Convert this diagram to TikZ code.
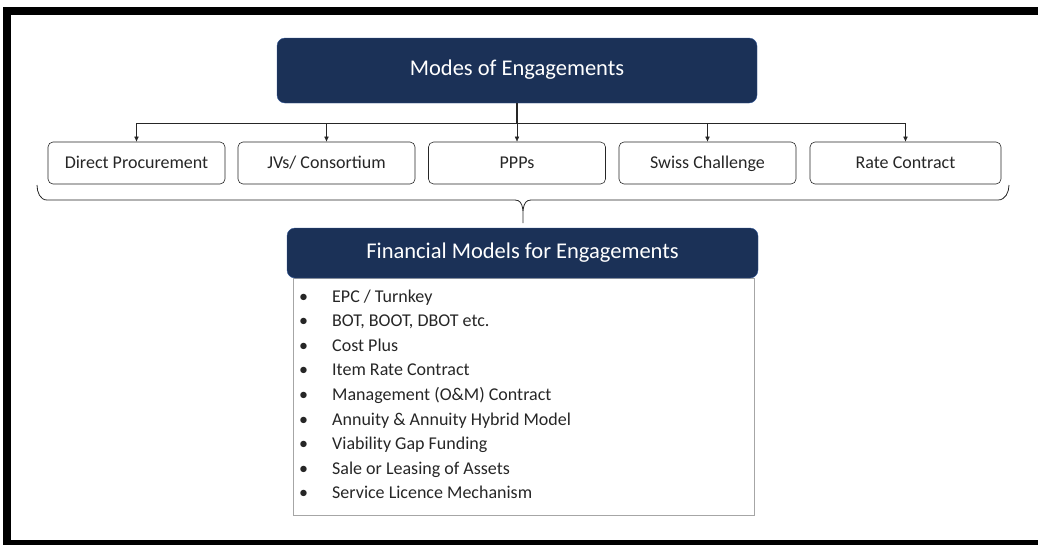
\documentclass[tikz,border=0pt]{standalone}
\usepackage{fontspec}
\setmainfont{Carlito}
\usetikzlibrary{arrows.meta}

\definecolor{navy}{RGB}{27,49,87}
\definecolor{navyedge}{RGB}{47,85,151}
\definecolor{boxgray}{RGB}{166,166,166}
\definecolor{ink}{RGB}{38,38,38}

\begin{document}
\begin{tikzpicture}[x=1pt, y=-1pt,
	modebox/.style={rectangle, rounded corners=5pt, draw=ink, semithick, text=ink, minimum height=42pt, text height=1.05em, text depth=0.05em, font=\fontsize{18}{20}\selectfont},
	headbox/.style={rectangle, rounded corners=8pt, fill=navy, draw=navyedge, text=white, text height=1.05em, text depth=0.05em, font=\fontsize{22.5}{25}\selectfont},
	item/.style={text=ink, inner sep=0pt, font=\fontsize{18}{20}\selectfont},
	link/.style={draw=ink},
	arr/.style={-{Latex[length=5pt,width=4.5pt]}}]
				\useasboundingbox (0,0) rectangle (1038,544);
				\begin{scope}
				\clip (0,0) rectangle (1038,544);
				\draw[black, line width=8pt] (1060,11) -- (7,11) -- (7,544) -- (1060,544);
				\end{scope}
				
				\node[headbox, minimum width=480pt, minimum height=65pt] (modes) at (517,70.5){Modes of Engagements};
				
				\node[modebox, minimum width=177pt] (dp) at (136.5,163){Direct Procurement};
				\node[modebox, minimum width=177pt] (jv) at (326.5,163){JVs/ Consortium};
				\node[modebox, minimum width=177pt] (ppp) at (517,163){PPPs};
				\node[modebox, minimum width=177pt] (sc) at (707.5,163){Swiss Challenge};
				\node[modebox, minimum width=191pt] (rc) at (905.5,163){Rate Contract};
				
				\coordinate (bus) at (517,123);
				\draw[link, line width=1.8pt] (modes.south) -- (bus);
				\foreach \b in {dp, jv, ppp, sc, rc}
					\draw[link, arr, thin] (bus) -| (\b.north);
				
				% brace under the modes
				\coordinate (tip) at (523,223);
				\draw[link, thick] (37,185) to[out=-90, in=180] (47,200) -- (515,200) to[out=0, in=90] (tip) to[out=90, in=180] (531,200) -- (998,200) to[out=0, in=-90] (1009,185);
				
				\node[rectangle, draw=boxgray, minimum width=461pt, minimum height=237pt] (list) at (523.5,396.5){};
				\node[headbox, minimum width=471pt, minimum height=50pt] (fin) at (522.5,253){Financial Models for Engagements};
				
				\foreach \t [count=\i] in {EPC / Turnkey, {BOT, BOOT, DBOT etc.}, Cost Plus, Item Rate Contract, Management (O\&M) Contract, Annuity \& Annuity Hybrid Model, Viability Gap Funding, Sale or Leasing of Assets, Service Licence Mechanism}{
					\node[item, anchor=base] (dot\i) at (303.5,{302+24.6*(\i-1)}){\textbullet};
					\node[item, anchor=base west] (item\i) at (332,{302+24.6*(\i-1)}){\t};
				}
				\end{tikzpicture}
\end{document}
